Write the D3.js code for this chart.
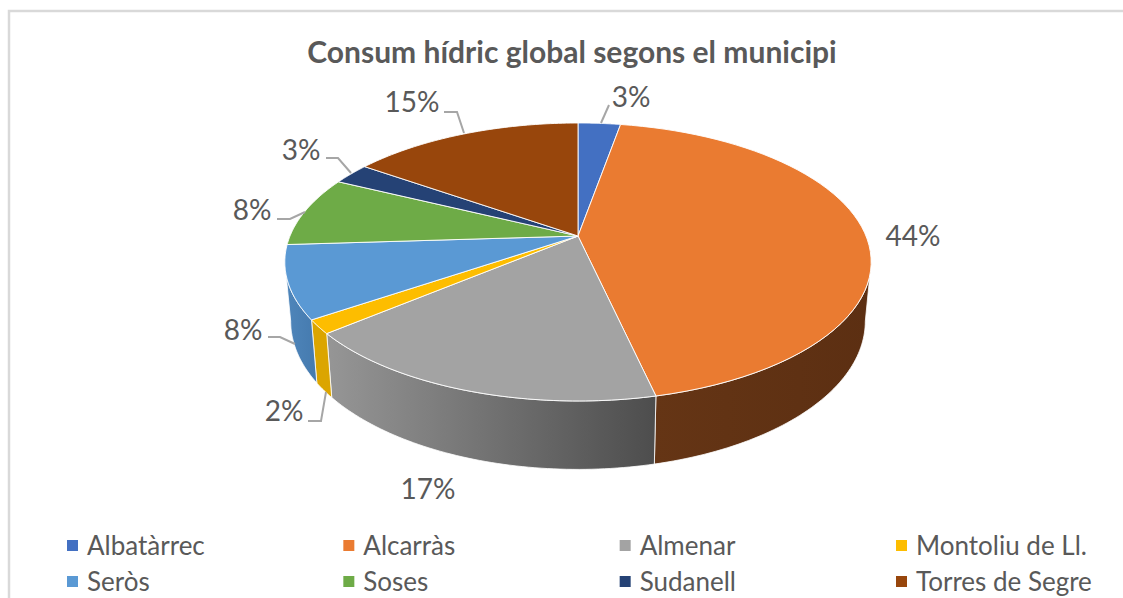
<!DOCTYPE html>
<html>
<head>
<meta charset="utf-8">
<script src="https://cdn.jsdelivr.net/npm/d3@7"></script>
<style>
  html, body { margin: 0; padding: 0; background: #fff; overflow: hidden; }
  text { font-family: Lato, "Open Sans", sans-serif; fill: #595959; }
</style>
</head>
<body>
<div id="chart"></div>
<script>
const categories = ["Albatàrrec", "Alcarràs", "Almenar", "Montoliu de Ll.", "Seròs", "Soses", "Sudanell", "Torres de Segre"];
const shares = [2.8, 43.65, 17.49, 1.6, 8.46, 8.2, 2.5, 15.3];
const topColors = ["#4370c2", "#ea7b31", "#a3a3a3", "#fdbd00", "#5a99d4", "#6eab47", "#254275", "#98460c"];
const wallLight = ["#4370c2", "#653515", "#969696", "#dba500", "#4f86bb", "#6eab47", "#254275", "#98460c"];
const wallDark = ["#4370c2", "#5c2f12", "#4d4d4d", "#dba500", "#457aae", "#6eab47", "#254275", "#98460c"];
// hand placed label spots, same order as categories: [x, y, leader points]
const labelSpots = [
    [631, 96, [[609, 105], [601, 123]]],
    [913, 235, []],
    [428, 488, []],
    [284, 410, [[308, 421], [321, 421], [326, 392]]],
    [243, 329, [[268, 337], [280, 337], [295, 344]]],
    [252, 209, [[277, 219], [290, 219], [305, 212]]],
    [301, 149, [[326, 158], [338, 158], [351, 173]]],
    [412, 101, [[444, 112], [457, 112], [464, 133]]]
];

const width = 1123, height = 598;
const svg = d3.select("#chart").append("svg")
    .attr("width", width)
    .attr("height", height)
    .style("display", "block");

// Chart frame, only top and left edges are in view
svg.append("path")
    .attr("d", `M9,${height}V11H${width}`)
    .attr("fill", "none")
    .attr("stroke", "#d9d9d9")
    .attr("stroke-width", 2.5);

svg.append("text")
    .attr("x", 572)
    .attr("y", 63)
    .attr("text-anchor", "middle")
    .style("font-size", "30px")
    .style("font-weight", 700)
    .text("Consum hídric global segons el municipi");

// Perspective of the tilted disc: angle clockwise from top -> screen point
const cx = 578, persp = -0.187, spanX = 288, spanY = 90, midY = 236;
function topRim(a) {
    const u = Math.sin(a), v = -Math.cos(a), d = 1 + persp * v;
    return [cx + spanX * u / d, (spanY * v + midY) / d];
}
// Bottom rim sits lower and a bit narrower
function bottomRim(a) {
    const [x, y] = topRim(a);
    return [cx + (x - cx) * 0.98, y + 63 + (y - 319) * 0.066];
}

const slices = d3.pie().sort(null).value(d => d)(shares);
const line = d3.line();
const rimPoints = (rim, a0, a1) => d3.range(0, 61).map(i => rim(a0 + (a1 - a0) * i / 60));

// Walls: only the front part of the disc shows them
const wallFrom = Math.acos(persp), wallTo = 2 * Math.PI - wallFrom;
const defs = svg.append("defs");
slices.forEach((s, i) => {
    const a0 = Math.max(s.startAngle, wallFrom), a1 = Math.min(s.endAngle, wallTo);
    if (a0 >= a1) return;
    const top = rimPoints(topRim, a0, a1), bottom = rimPoints(bottomRim, a0, a1).reverse();
    const xs = top.concat(bottom).map(p => p[0]);
    const grad = defs.append("linearGradient")
        .attr("id", `wall${i}`)
        .attr("gradientUnits", "userSpaceOnUse")
        .attr("x1", d3.min(xs)).attr("x2", d3.max(xs))
        .attr("y1", 0).attr("y2", 0);
    grad.append("stop").attr("offset", 0).attr("stop-color", wallLight[i]);
    grad.append("stop").attr("offset", 1).attr("stop-color", wallDark[i]);
    svg.append("path")
        .attr("d", line(top.concat(bottom)) + "Z")
        .attr("fill", `url(#wall${i})`)
        .attr("stroke", "#fff")
        .attr("stroke-width", 0.8)
        .attr("stroke-linejoin", "round");
});

// Top faces
svg.selectAll("path.slice")
    .data(slices)
    .join("path")
    .attr("class", "slice")
    .attr("d", s => line([[cx, midY]].concat(rimPoints(topRim, s.startAngle, s.endAngle))) + "Z")
    .attr("fill", (s, i) => topColors[i])
    .attr("stroke", "#fff")
    .attr("stroke-width", 0.9)
    .attr("stroke-linejoin", "round");

// Leaders and percent labels
labelSpots.forEach((spot, i) => {
    if (spot[2].length) {
        svg.append("path")
            .attr("d", line(spot[2]))
            .attr("fill", "none")
            .attr("stroke", "#a6a6a6")
            .attr("stroke-width", 2);
    }
    svg.append("text")
        .attr("x", spot[0])
        .attr("y", spot[1])
        .attr("text-anchor", "middle")
        .attr("dominant-baseline", "central")
        .style("font-size", "28px")
        .text(`${Math.round(shares[i])}%`);
});

// Legend, 4 columns by 2 rows
const legendX = d3.scalePoint().domain(d3.range(4)).range([67, 896]);
const legendY = d3.scalePoint().domain(d3.range(2)).range([545, 581]);
const legend = svg.selectAll("g.legend")
    .data(categories)
    .join("g")
    .attr("class", "legend")
    .attr("transform", (d, i) => `translate(${legendX(i % 4)},${legendY(Math.floor(i / 4))})`);
legend.append("rect")
    .attr("x", 0).attr("y", -5)
    .attr("width", 11).attr("height", 11)
    .attr("fill", (d, i) => topColors[i]);
legend.append("text")
    .attr("x", 20)
    .attr("dominant-baseline", "central")
    .style("font-size", "26px")
    .text(d => d);
</script>
</body>
</html>
